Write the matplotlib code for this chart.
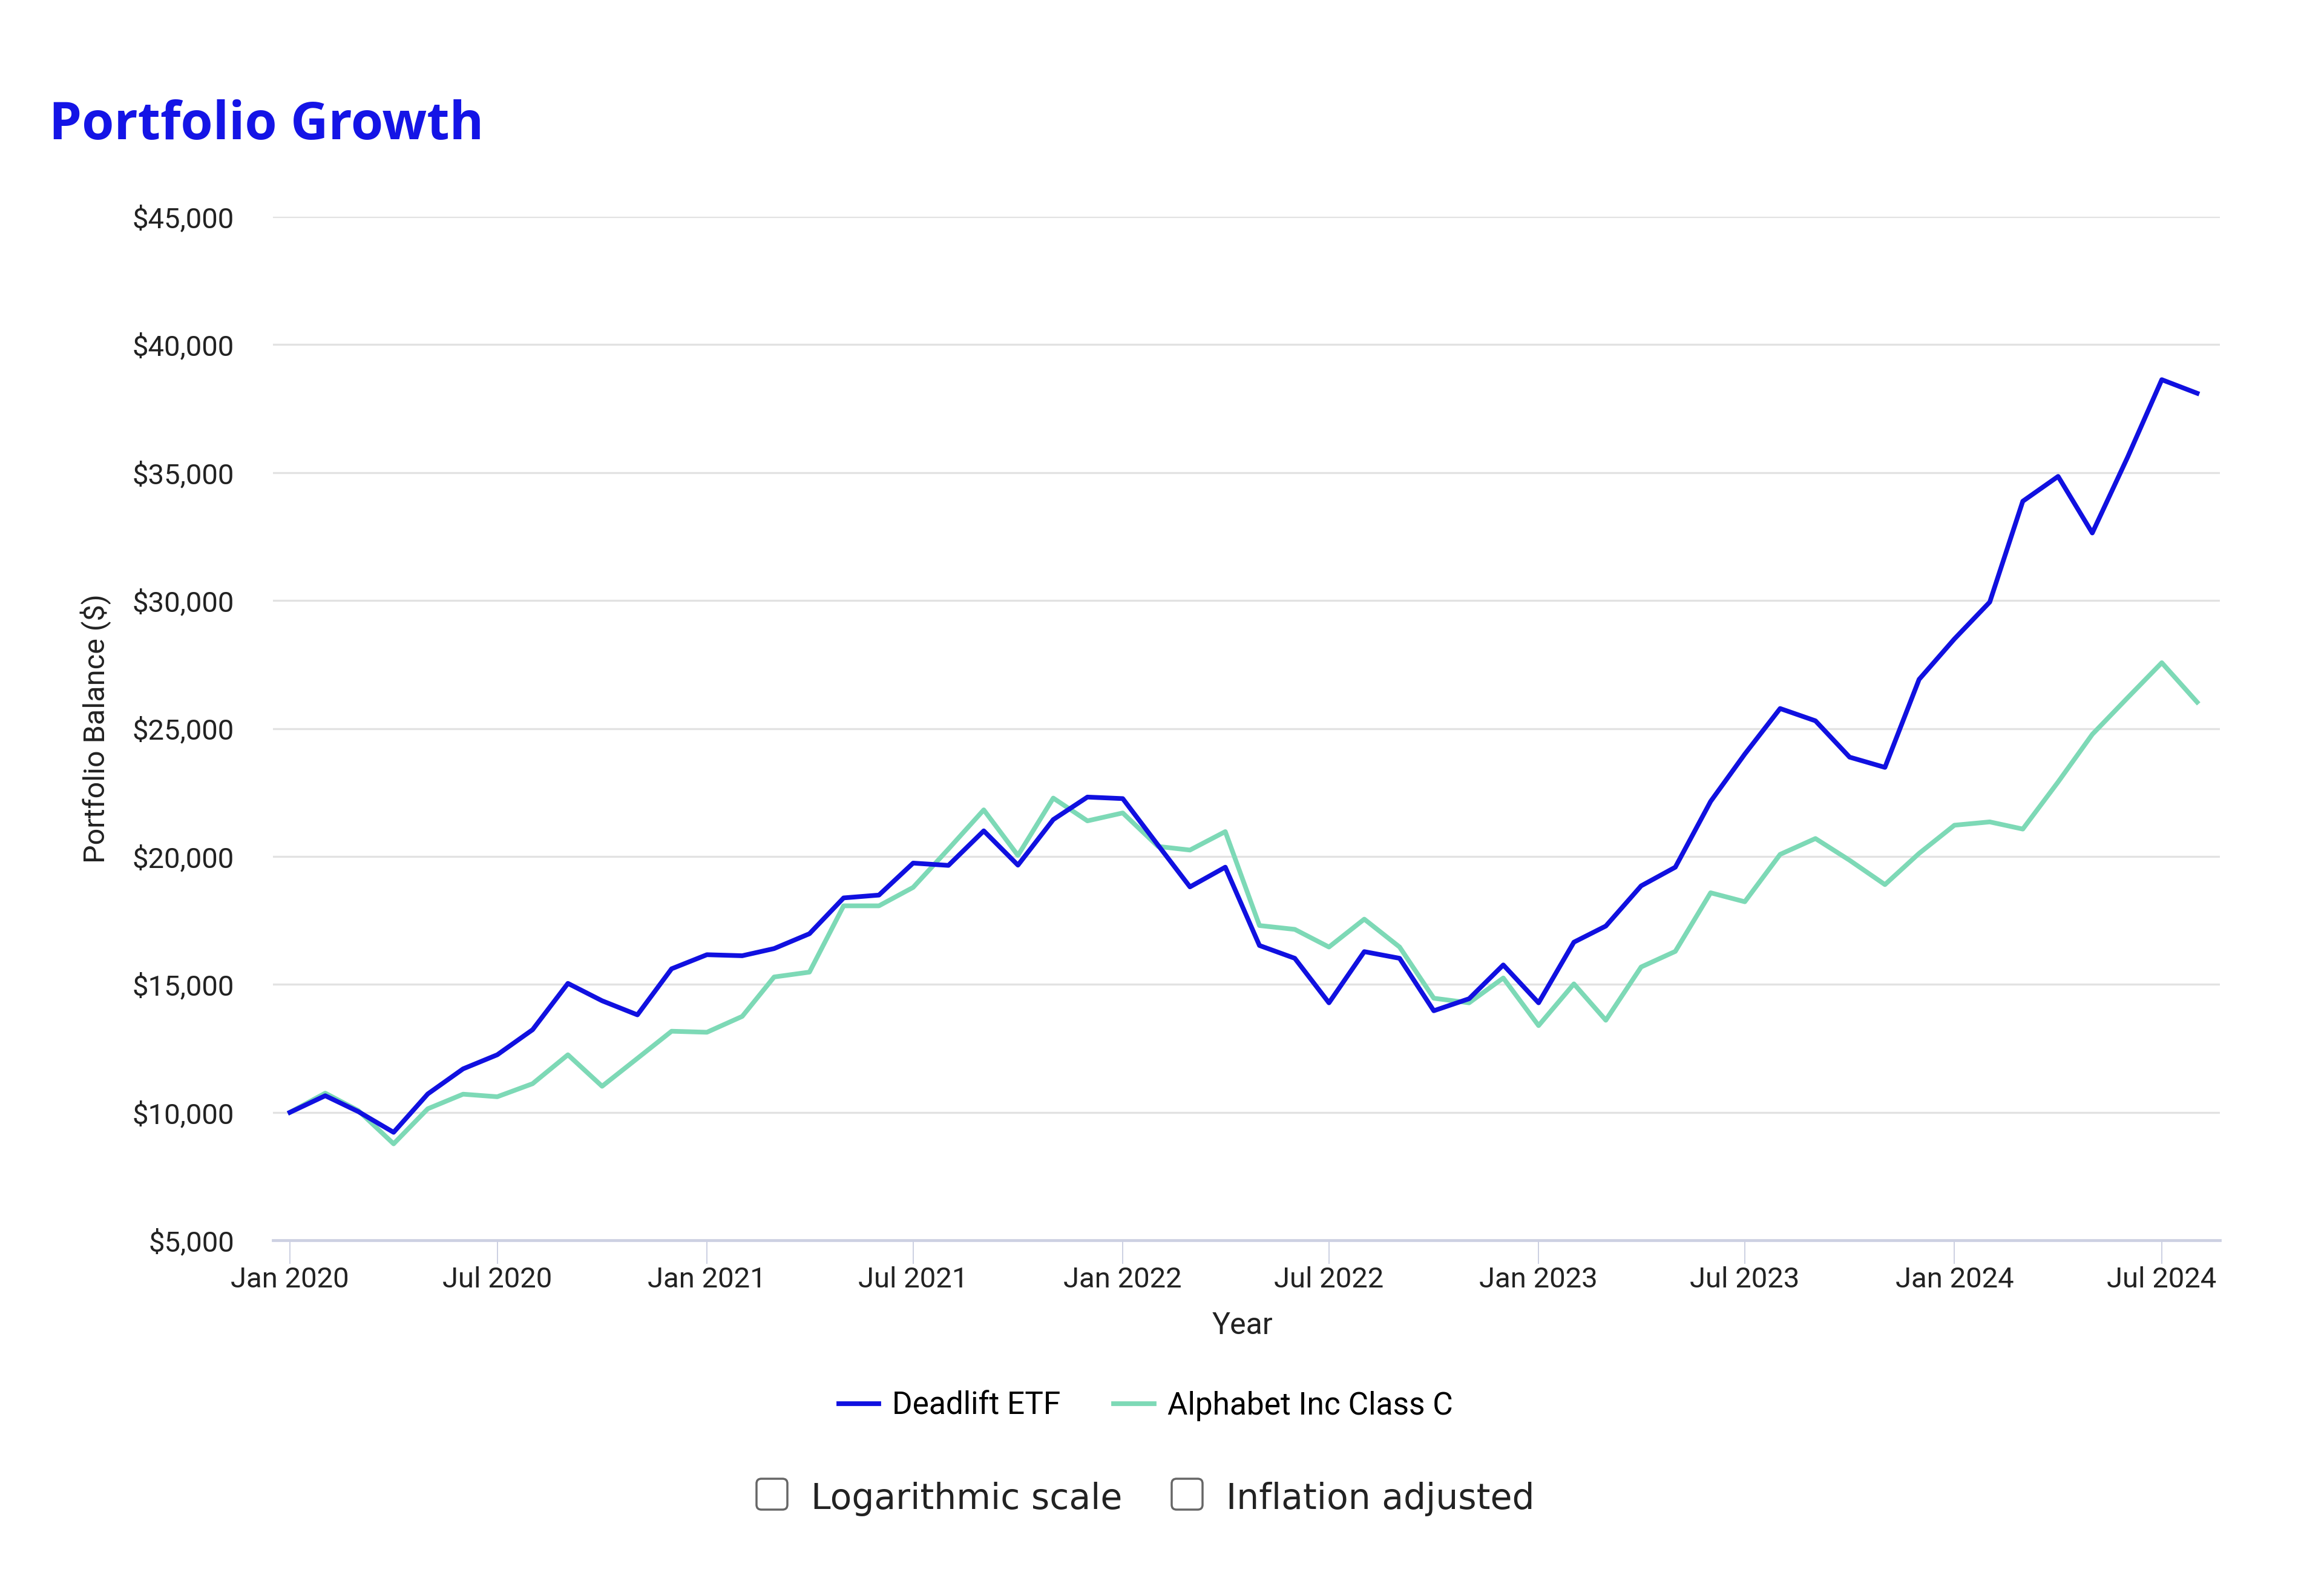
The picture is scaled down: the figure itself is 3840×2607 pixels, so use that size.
import numpy as np
import pandas as pd
import matplotlib
matplotlib.use("Agg")
import matplotlib.pyplot as plt
import matplotlib.dates as mdates
from matplotlib.patches import FancyBboxPatch
from matplotlib.ticker import FuncFormatter

# monthly balances, Jan 2020 .. Aug 2024
dates = pd.date_range("2020-01-01", periods=56, freq="MS")

deadlift = [10000, 10650, 10030, 9220, 10720, 11700, 12250, 13230, 15040, 14360,
            13810, 15610, 16160, 16120, 16400, 16980, 18380, 18490, 19740, 19650,
            21000, 19660, 21440, 22320, 22260, 20440, 18810, 19580, 16520, 16020,
            14280, 16280, 16020, 13970, 14440, 15760, 14280, 16650, 17280, 18850,
            19580, 22150, 24000, 25780, 25300, 23880, 23480, 26920, 28500, 29940,
            33880, 34850, 32640, 35600, 38630, 38100]

alphabet = [10000, 10750, 10070, 8770, 10140, 10710, 10610, 11120, 12250, 11020,
            12110, 13170, 13130, 13750, 15290, 15480, 18070, 18070, 18790, 20290,
            21820, 20040, 22280, 21390, 21700, 20390, 20250, 20970, 17300, 17150,
            16460, 17550, 16460, 14460, 14280, 15250, 13390, 15020, 13600, 15680,
            16290, 18580, 18230, 20080, 20700, 19850, 18900, 20120, 21220, 21350,
            21070, 22910, 24770, 26200, 27570, 26030]

series_names = ["Deadlift ETF", "Alphabet Inc Class C"]
series_colors = ["#1010e0", "#7dd9b6"]
yticks = np.arange(5000, 45001, 5000)
xticks = pd.date_range("2020-01-01", "2024-07-01", freq="6MS")

fig = plt.figure(figsize=(38.4, 26.07), dpi=100)
ax = fig.add_axes([0.1174, 0.2140, 0.8378, 0.6487])

ax.plot(dates, deadlift, color=series_colors[0], lw=5.6, label=series_names[0], zorder=3)
ax.plot(dates, alphabet, color=series_colors[1], lw=5.6, label=series_names[1], zorder=2)

ax.set_ylim(5000, 45000)
ax.set_xlim(pd.Timestamp("2019-12-17"), pd.Timestamp("2024-08-21"))
ax.set_yticks(yticks)
ax.yaxis.set_major_formatter(FuncFormatter(lambda v, p: "${:,.0f}".format(v)))
ax.set_xticks(xticks)
ax.xaxis.set_major_formatter(mdates.DateFormatter("%b %Y"))

ax.grid(axis="y", color="#e2e2e2", lw=2.4)
ax.set_axisbelow(True)
for s in ["top", "right", "left"]:
    ax.spines[s].set_visible(False)
ax.spines["bottom"].set_color("#ccd0e2")
ax.spines["bottom"].set_linewidth(3.4)

ax.tick_params(axis="y", length=0, pad=46)
ax.tick_params(axis="x", length=28, width=1.4, color="#ccd0e2", pad=3)
for lab in ax.get_xticklabels() + ax.get_yticklabels():
    lab.set_fontfamily("Roboto")
    lab.set_fontsize(34)
    lab.set_color("#222222")

ax.set_ylabel("Portfolio Balance ($)", fontfamily="Roboto", fontsize=35, color="#222222")
ax.yaxis.set_label_coords(-0.0828, 0.5)
ax.set_xlabel("Year", fontfamily="Roboto", fontsize=36, color="#222222")
ax.xaxis.set_label_coords(0.498, -0.069)

fig.text(0.021, 0.9118, "Portfolio Growth", fontfamily="Open Sans", fontweight="bold",
         fontsize=62, color="#1414e6", ha="left", va="baseline")

fig.legend(loc="center", bbox_to_anchor=(0.493, 0.109), ncol=2, frameon=False,
           prop={"family": "Roboto", "size": 37}, handlelength=1.3, handletextpad=0.43,
           columnspacing=1.7)

# checkboxes below legend
boxes = [(12.50, "Logarithmic scale"), (19.36, "Inflation adjusted")]
for bx, txt in boxes:
    fig.add_artist(FancyBboxPatch((bx, 1.13), 0.51, 0.51,
                                  boxstyle="round,pad=0,rounding_size=0.08",
                                  transform=fig.dpi_scale_trans, fill=False,
                                  edgecolor="#666666", lw=2.5))
    fig.text((bx + 0.90) / 38.4, 1.14 / 26.07, txt, fontfamily="DejaVu Sans",
             fontsize=42, color="#222222", ha="left", va="baseline")

fig.savefig("out.png", dpi=100, facecolor="white")
